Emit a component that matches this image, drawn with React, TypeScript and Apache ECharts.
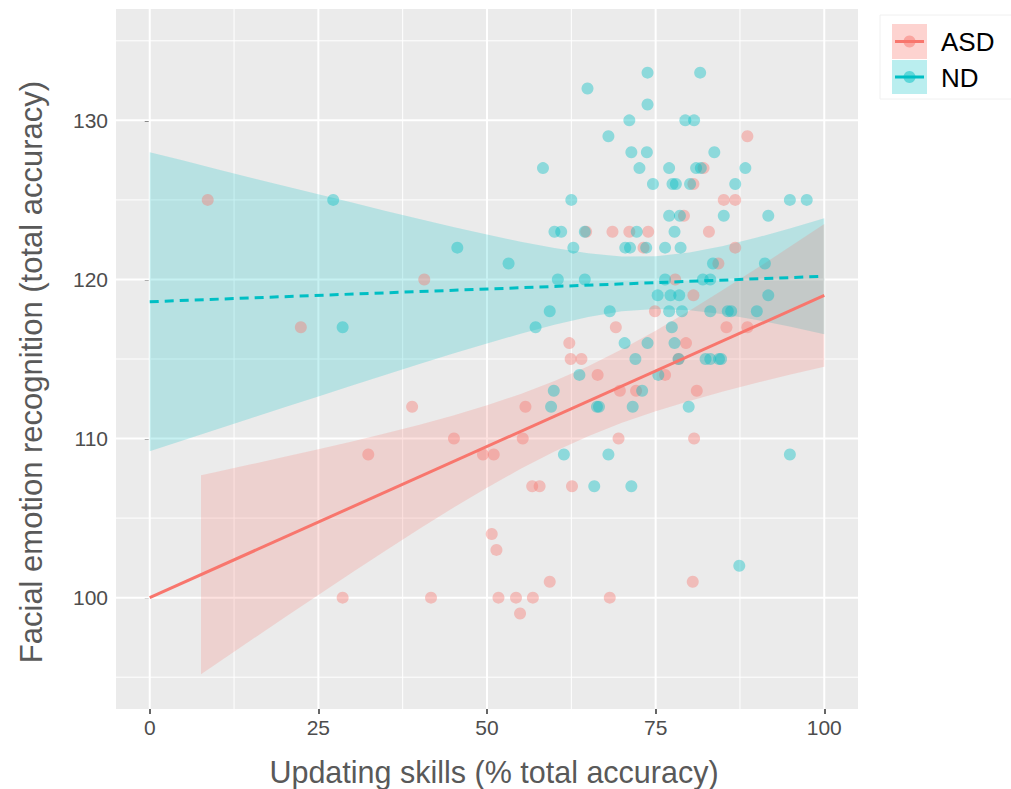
import React, { useEffect, useRef } from "react";
import * as echarts from "echarts";

// ---- data ----
const xTicks = [0, 25, 50, 75, 100];
const xMinor = [12.5, 37.5, 62.5, 87.5];
const yTicks = [100, 110, 120, 130];
const yMinor = [95, 105, 115, 125, 135];

const asdX = [8.6, 22.4, 28.6, 32.4, 38.9, 40.7, 41.7, 45.1, 49.4, 51.0, 50.7, 51.4, 51.7, 54.3, 54.9, 55.3, 55.7, 56.7, 57.8, 56.8, 59.3, 62.2, 62.4, 64.0, 62.6, 64.7, 66.4, 68.6, 68.2, 69.1, 69.5, 69.7, 71.1, 72.1, 73.9, 73.2, 74.9, 76.4, 77.9, 78.4, 79.2, 79.5, 80.6, 80.6, 80.7, 80.5, 81.1, 82.1, 82.9, 84.3, 85.1, 85.5, 86.8, 86.8, 88.6, 88.6];
const asdY = [125, 117, 100, 109, 112, 120, 100, 110, 109, 109, 104, 103, 100, 100, 99, 110, 112, 107, 107, 100, 101, 116, 115, 115, 107, 123, 114, 123, 100, 117, 110, 113, 123, 113, 123, 122, 118, 114, 120, 115, 124, 116, 126, 119, 110, 101, 113, 127, 123, 121, 125, 117, 125, 122, 129, 117];

const ndX = [27.2, 28.6, 45.6, 53.2, 57.2, 58.3, 59.3, 59.5, 59.9, 60.0, 61.0, 60.5, 61.4, 62.5, 62.8, 63.7, 64.5, 64.5, 64.9, 65.9, 66.3, 66.6, 68.0, 68.2, 68.0, 70.4, 70.5, 71.2, 71.1, 71.4, 71.6, 71.4, 72.0, 72.2, 72.6, 73.0, 73.7, 73.8, 73.8, 73.8, 73.6, 74.6, 75.3, 75.4, 76.4, 76.4, 77.0, 77.0, 77.0, 77.2, 77.4, 77.5, 78.0, 77.8, 77.8, 78.4, 78.5, 78.6, 78.7, 78.9, 79.4, 79.9, 80.1, 80.7, 81.0, 81.6, 81.7, 82.0, 82.4, 83.1, 83.1, 83.1, 83.5, 83.7, 84.4, 84.7, 85.1, 85.7, 86.2, 86.8, 87.4, 88.3, 90.0, 91.2, 91.7, 91.7, 94.9, 94.9, 97.4];
const ndY = [125, 117, 122, 121, 117, 127, 118, 112, 113, 123, 123, 120, 109, 125, 122, 114, 123, 120, 132, 107, 112, 112, 129, 118, 109, 116, 122, 122, 130, 128, 112, 107, 115, 123, 127, 113, 128, 133, 131, 116, 122, 126, 119, 114, 122, 120, 127, 124, 118, 119, 117, 126, 126, 123, 116, 115, 119, 124, 122, 118, 130, 112, 126, 130, 127, 133, 127, 120, 115, 120, 115, 118, 121, 128, 115, 115, 124, 118, 118, 126, 102, 127, 118, 121, 124, 119, 125, 109, 125];

const asdLineX = [0, 100];
const asdLineY = [100, 119];
const ndLineX = [0, 100];
const ndLineY = [118.6, 120.2];

const asdBandX = [7.6, 10, 15, 20, 25, 30, 35, 40, 45, 50, 55, 60, 65, 70, 75, 80, 85, 90, 95, 100];
const asdBandLow = [95.18, 95.88, 97.32, 98.75, 100.17, 101.58, 102.96, 104.33, 105.65, 106.91, 108.1, 109.19, 110.15, 110.99, 111.72, 112.36, 112.95, 113.5, 114.02, 114.51];
const asdBandHigh = [107.7, 107.92, 108.38, 108.85, 109.33, 109.82, 110.34, 110.87, 111.45, 112.09, 112.8, 113.61, 114.55, 115.61, 116.78, 118.04, 119.35, 120.7, 122.08, 123.49];

const ndBandX = [0, 5, 10, 15, 20, 25, 30, 35, 40, 45, 50, 55, 60, 65, 70, 75, 80, 85, 90, 95, 100];
const ndBandLow = [109.2, 109.89, 110.59, 111.28, 111.97, 112.65, 113.33, 114.01, 114.68, 115.34, 115.97, 116.59, 117.15, 117.64, 118.0, 118.14, 118.07, 117.81, 117.45, 117.02, 116.55];
const ndBandHigh = [128.0, 127.47, 126.93, 126.4, 125.87, 125.35, 124.83, 124.31, 123.8, 123.3, 122.83, 122.37, 121.97, 121.64, 121.44, 121.46, 121.69, 122.11, 122.63, 123.22, 123.85];

const groups = ["ASD", "ND"];

const X_MIN = -5, X_MAX = 105, Y_MIN = 93, Y_MAX = 137;
const ASD_COL = "#F8766D";
const ND_COL = "#00BFC4";
const ASD_FILL = "rgba(248,118,109,0.22)";
const ND_FILL = "rgba(0,191,196,0.22)";
const ASD_PT = "rgba(248,118,109,0.5)";
const ND_PT = "rgba(0,191,196,0.5)";

function bandSeries(xs: number[], lo: number[], hi: number[], fill: string, z: number) {
  return {
    type: "custom",
    z,
    silent: true,
    data: [[xs[0], lo[0]]],
    renderItem: (_p: any, api: any) => {
      const pts: number[][] = [];
      for (let i = 0; i < xs.length; i++) pts.push(api.coord([xs[i], hi[i]]));
      for (let i = xs.length - 1; i >= 0; i--) pts.push(api.coord([xs[i], lo[i]]));
      return { type: "polygon", shape: { points: pts }, style: { fill, stroke: "none" } };
    },
  };
}

function gridSeries(vals: number[], vertical: boolean, width: number) {
  return {
    type: "custom",
    z: 1,
    silent: true,
    data: vals.map((v) => (vertical ? [v, Y_MIN] : [X_MIN, v])),
    renderItem: (_p: any, api: any) => {
      const v = vertical ? api.value(0) : api.value(1);
      const a = vertical ? api.coord([v, Y_MIN]) : api.coord([X_MIN, v]);
      const b = vertical ? api.coord([v, Y_MAX]) : api.coord([X_MAX, v]);
      return {
        type: "line",
        shape: { x1: a[0], y1: a[1], x2: b[0], y2: b[1] },
        style: { stroke: "#FFFFFF", lineWidth: width },
      };
    },
  };
}

export default function App() {
  const ref = useRef<HTMLDivElement>(null);
  useEffect(() => {
    if (!ref.current) return;
    const chart = echarts.init(ref.current, undefined, { renderer: "svg" });
    const font = "'Liberation Sans', Arial, sans-serif";
    const option: any = {
      animation: false,
      backgroundColor: "#FFFFFF",
      grid: {
        left: 116,
        top: 9,
        width: 742,
        height: 700,
        show: true,
        backgroundColor: "#EBEBEB",
        borderWidth: 0,
      },
      xAxis: {
        type: "value",
        min: X_MIN,
        max: X_MAX,
        splitLine: { show: false },
        axisLine: { show: false },
        axisTick: { show: true, customValues: xTicks, length: 5, lineStyle: { color: "#333333", width: 1.5 } },
        axisLabel: { customValues: xTicks, fontSize: 21, color: "#4D4D4D", margin: 8, fontFamily: font },
      },
      yAxis: {
        type: "value",
        min: Y_MIN,
        max: Y_MAX,
        splitLine: { show: false },
        axisLine: { show: false },
        axisTick: { show: true, customValues: yTicks, length: 5, lineStyle: { color: "#333333", width: 1.5 } },
        axisLabel: { customValues: yTicks, fontSize: 21, color: "#4D4D4D", margin: 8, fontFamily: font },
      },
      graphic: [
        {
          type: "text",
          x: 494,
          y: 772,
          style: {
            text: "Updating skills (% total accuracy)",
            fontSize: 30.5,
            fill: "#595959",
            fontFamily: font,
            align: "center",
            verticalAlign: "middle",
          },
        },
        {
          type: "text",
          x: 31,
          y: 372,
          rotation: Math.PI / 2,
          style: {
            text: "Facial emotion recognition (total accuracy)",
            fontSize: 31,
            fill: "#595959",
            fontFamily: font,
            align: "center",
            verticalAlign: "middle",
          },
        },
        {
          type: "rect",
          shape: { x: 880, y: 15, width: 140, height: 84 },
          style: { fill: "#FFFFFF", stroke: "#F0F0F0", lineWidth: 1 },
        },
        { type: "rect", shape: { x: 892, y: 24, width: 35, height: 35 }, style: { fill: "rgba(248,118,109,0.32)" } },
        { type: "rect", shape: { x: 892, y: 60, width: 35, height: 34 }, style: { fill: "rgba(0,191,196,0.27)" } },
        { type: "line", shape: { x1: 895, y1: 41.5, x2: 924, y2: 41.5 }, style: { stroke: ASD_COL, lineWidth: 3 } },
        { type: "circle", shape: { cx: 909.5, cy: 41.5, r: 6 }, style: { fill: ASD_PT } },
        { type: "line", shape: { x1: 895, y1: 77, x2: 924, y2: 77 }, style: { stroke: ND_COL, lineWidth: 3 } },
        { type: "circle", shape: { cx: 909.5, cy: 77, r: 6 }, style: { fill: ND_PT } },
        {
          type: "text",
          x: 941,
          y: 42,
          style: { text: groups[0], fontSize: 26, fill: "#000000", fontFamily: font, verticalAlign: "middle" },
        },
        {
          type: "text",
          x: 941,
          y: 78,
          style: { text: groups[1], fontSize: 26, fill: "#000000", fontFamily: font, verticalAlign: "middle" },
        },
      ],
      series: [
        gridSeries(xMinor, true, 1),
        gridSeries(yMinor, false, 1),
        gridSeries(xTicks, true, 2),
        gridSeries(yTicks, false, 2),
        bandSeries(ndBandX, ndBandLow, ndBandHigh, ND_FILL, 2),
        bandSeries(asdBandX, asdBandLow, asdBandHigh, ASD_FILL, 2),
        {
          name: groups[0],
          type: "scatter",
          z: 3,
          symbolSize: 12,
          itemStyle: { color: ASD_PT },
          data: asdX.map((x, i) => [x, asdY[i]]),
        },
        {
          name: groups[1],
          type: "scatter",
          z: 3,
          symbolSize: 12,
          itemStyle: { color: ND_PT },
          data: ndX.map((x, i) => [x, ndY[i]]),
        },
        {
          name: groups[0] + " fit",
          type: "line",
          z: 4,
          symbol: "none",
          lineStyle: { color: ASD_COL, width: 3 },
          data: asdLineX.map((x, i) => [x, asdLineY[i]]),
        },
        {
          name: groups[1] + " fit",
          type: "line",
          z: 4,
          symbol: "none",
          lineStyle: { color: ND_COL, width: 3, type: [9, 6] },
          data: ndLineX.map((x, i) => [x, ndLineY[i]]),
        },
      ],
    };
    chart.setOption(option);
    return () => chart.dispose();
  }, []);
  return (
    <div
      ref={ref}
      style={{ position: "fixed", left: 0, top: 0, width: 1011, height: 789, background: "#fff" }}
    />
  );
}
